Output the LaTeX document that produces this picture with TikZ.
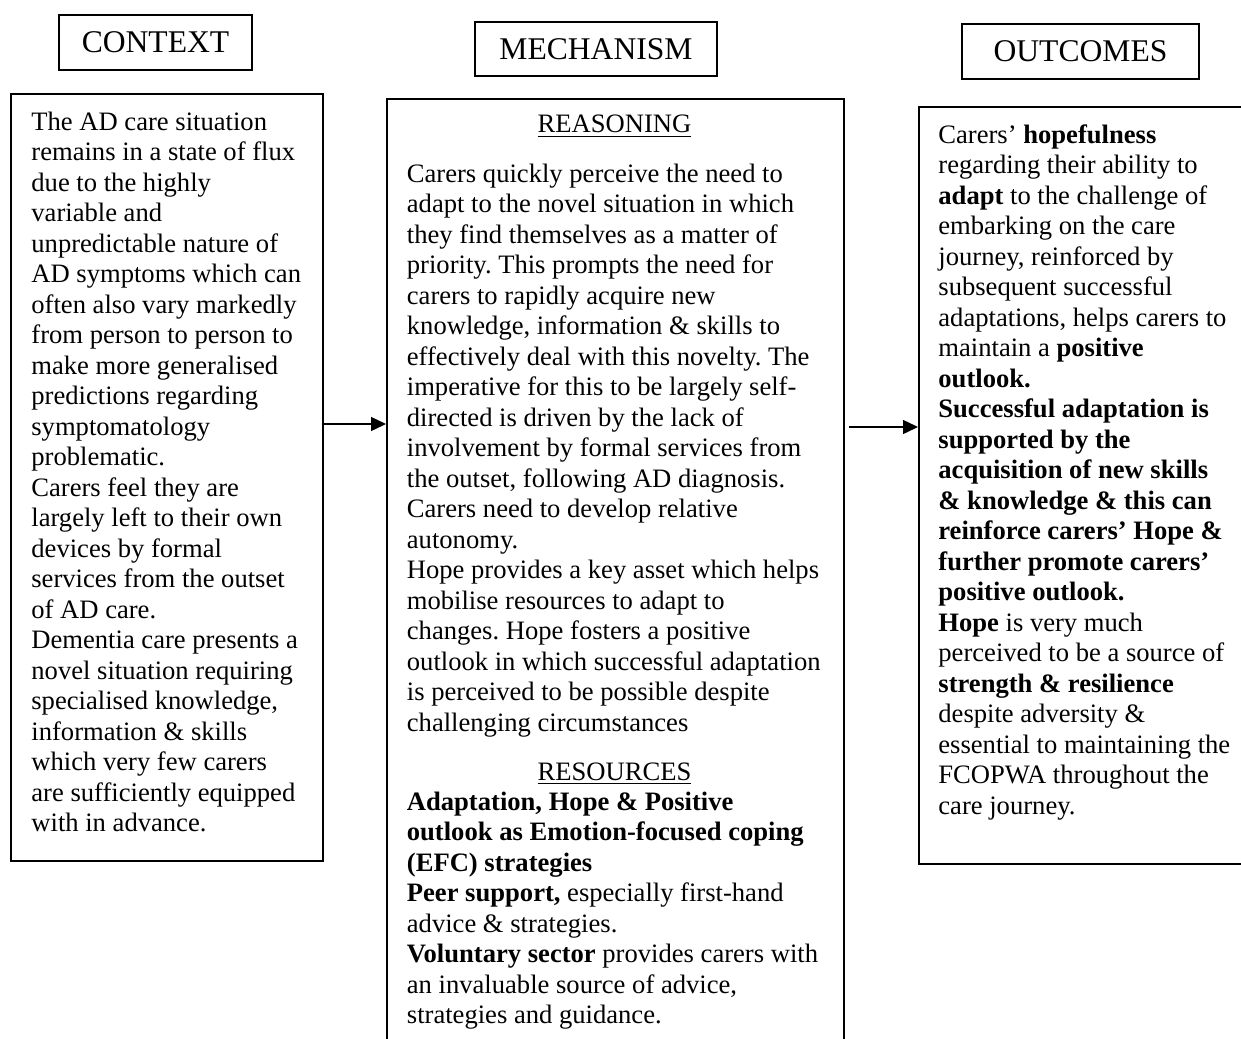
\documentclass[tikz,border=0pt]{standalone}
\usepackage{fontspec}
\setmainfont{Liberation Serif}
\usetikzlibrary{arrows.meta}
\frenchspacing
\newcommand{\bodyfont}{\fontsize{13.3pt}{15.25pt}\selectfont}
\newcommand{\titlefont}{\fontsize{15.8pt}{18pt}\selectfont}
\begin{document}
\begin{tikzpicture}[x=0.5pt,y=-0.5pt]
\tikzset{
  bigbox/.style={draw, line width=0.9pt, inner sep=0pt, anchor=north west},
  titlebox/.style={draw, line width=0.7pt, inner sep=0pt, font=\titlefont},
  bodytext/.style={anchor=base west, inner sep=0pt, font=\bodyfont},
  heading/.style={anchor=base, inner sep=0pt, font=\bodyfont},
  conn/.style={line width=0.7pt, -{Triangle[length=7.5pt,width=7pt]}},
}
\useasboundingbox (0,0) rectangle (1241,1038);
\clip (0,0) rectangle (1241,1038);
\fill[white] (0,0) rectangle (1241,1038);

% title boxes
\node[titlebox, minimum width=96.5pt, minimum height=27.5pt] (tctx) at (155.5,42.5) {CONTEXT};
\node[titlebox, minimum width=121pt, minimum height=27pt] (tmech) at (596,49) {MECHANISM};
\node[titlebox, minimum width=118.5pt, minimum height=27.5pt] (tout) at (1080.5,51.5) {OUTCOMES};

% main boxes
\node[bigbox, minimum width=156pt, minimum height=383.5pt] (ctx) at (10,93) {};
\node[bigbox, minimum width=228.5pt, minimum height=481pt] (mech) at (386,98) {};
\node[bigbox, minimum width=171pt, minimum height=378.5pt] (out) at (918,106) {};

% connectors
\coordinate (ya) at (0,424);
\coordinate (yb) at (0,427);
\draw[conn] (ctx.east |- ya) -- (mech.west |- ya);
\draw[conn] ([xshift=2pt]mech.east |- yb) -- (out.west |- yb);

% context text
\node[bodytext] (ctxtext) at (31,130) {\parbox[t]{160pt}{\raggedright\bodyfont\frenchspacing
The AD care situation\\
remains in a state of flux\\
due to the highly\\
variable and\\
unpredictable nature of\\
AD symptoms which can\\
often also vary markedly\\
from person to person to\\
make more generalised\\
predictions regarding\\
symptomatology\\
problematic.\\
Carers feel they are\\
largely left to their own\\
devices by formal\\
services from the outset\\
of AD care.\\
Dementia care presents a\\
novel situation requiring\\
specialised knowledge,\\
information \& skills\\
which very few carers\\
are sufficiently equipped\\
with in advance.}};

% mechanism text
\node[heading] (reas) at (614.5,133) {\underline{REASONING}};
\node[bodytext] (reastext) at (406.5,182) {\parbox[t]{225pt}{\raggedright\bodyfont\frenchspacing
Carers quickly perceive the need to\\
adapt to the novel situation in which\\
they find themselves as a matter of\\
priority. This prompts the need for\\
carers to rapidly acquire new\\
knowledge, information \& skills to\\
effectively deal with this novelty. The\\
imperative for this to be largely self-\\
directed is driven by the lack of\\
involvement by formal services from\\
the outset, following AD diagnosis.\\
Carers need to develop relative\\
autonomy.\\
Hope provides a key asset which helps\\
mobilise resources to adapt to\\
changes. Hope fosters a positive\\
outlook in which successful adaptation\\
is perceived to be possible despite\\
challenging circumstances}};
\node[heading] (res) at (614.5,780) {\underline{RESOURCES}};
\node[bodytext] (restext) at (406.5,810) {\parbox[t]{225pt}{\raggedright\bodyfont\frenchspacing
\textbf{Adaptation, Hope \& Positive}\\
\textbf{outlook as Emotion-focused coping}\\
\textbf{(EFC) strategies}\\
\textbf{Peer support,} especially first-hand\\
advice \& strategies.\\
\textbf{Voluntary sector} provides carers with\\
an invaluable source of advice,\\
strategies and guidance.}};

% outcomes text
\node[bodytext] (outtext) at (938,143) {\parbox[t]{160pt}{\raggedright\bodyfont\frenchspacing
Carers’ \textbf{hopefulness}\\
regarding their ability to\\
\textbf{adapt} to the challenge of\\
embarking on the care\\
journey, reinforced by\\
subsequent successful\\
adaptations, helps carers to\\
maintain a \textbf{positive}\\
\textbf{outlook.}\\
\textbf{Successful adaptation is}\\
\textbf{supported by the}\\
\textbf{acquisition of new skills}\\
\textbf{\& knowledge \& this can}\\
\textbf{reinforce carers’ Hope \&}\\
\textbf{further promote carers’}\\
\textbf{positive outlook.}\\
\textbf{Hope} is very much\\
perceived to be a source of\\
\textbf{strength \& resilience}\\
despite adversity \&\\
essential to maintaining the\\
FCOPWA throughout the\\
care journey.}};
\end{tikzpicture}
\end{document}
